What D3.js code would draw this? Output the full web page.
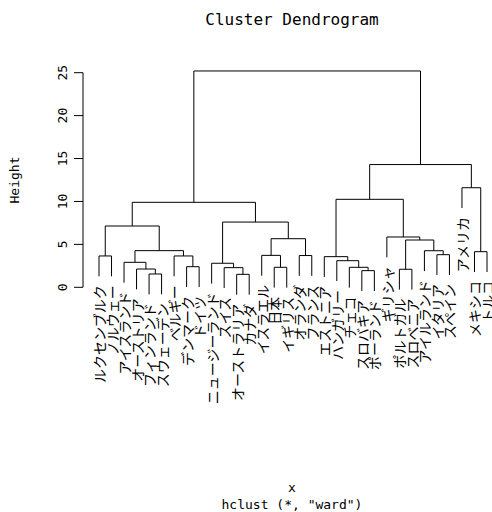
<!DOCTYPE html>
<html lang="ja">
<head>
<meta charset="UTF-8" />
<title>Cluster Dendrogram</title>
<script src="https://d3js.org/d3.v7.min.js"></script>
<style>
  body { margin: 0; background: #fff; }
  svg { display: block; }
  .mono { font-family: "DejaVu Sans Mono", monospace; fill: #000; }
  .leaf { font-family: "Noto Sans CJK JP", sans-serif; font-size: 14px; fill: #000; }
  path.branch { fill: none; stroke: #000; stroke-width: 1; }
</style>
</head>
<body>
<svg width="492" height="512"></svg>
<script>
  // leaf order as drawn, left to right
  const labels = [
    "ルクセンブルク", "ノルウェー", "アイスランド", "オーストリア", "フィンランド", "スウェーデン",
    "ベルギー", "デンマーク", "ドイツ", "ニュージーランド", "スイス", "オーストラリア",
    "カナダ", "イスラエル", "日本", "イギリス", "オランダ", "フランス",
    "エストニア", "ハンガリー", "チェコ", "スロバキア", "ポーランド", "ギリシャ",
    "ポルトガル", "スロベニア", "アイルランド", "イタリア", "スペイン", "アメリカ",
    "メキシコ", "トルコ"
  ];

  // merge steps, R style: negative = leaf (1-based position), positive = earlier step
  const merges = [
    [-12, -13], [-5, -6], [-22, -23], [-25, -26], [-4, 2], [-11, 1], [-15, -16],
    [-21, 3], [-8, -9], [-10, 6], [-3, 5], [-20, 8], [-19, 12], [-1, -2], [-7, 9],
    [-17, -18], [-14, 7], [-28, -29], [-31, -32], [-27, 18], [11, 15], [4, 20],
    [17, 16], [-24, 22], [14, 21], [10, 23], [25, 26], [13, 24], [-30, 19], [28, 29],
    [27, 30]
  ];
  const heights = [
    1.51, 1.55, 1.94, 2.10, 2.13, 2.29, 2.33, 2.33, 2.40, 2.80, 2.91, 3.10, 3.57,
    3.65, 3.65, 3.70, 3.72, 3.80, 4.15, 4.26, 4.27, 5.51, 5.66, 5.86, 7.14, 7.60,
    9.90, 10.25, 11.60, 14.30, 25.20
  ];
  const yTicks = [0, 5, 10, 15, 20, 25];

  const svg = d3.select("svg");

  const x = d3.scalePoint().domain(d3.range(labels.length)).range([99, 487]);
  const y = d3.scaleLinear().domain([0, 25]).range([287.3, 72.7]);

  const hang = 0.1 * (d3.max(heights) - d3.min(heights));

  // position of each merge node
  const nodeX = [];
  function childX(c) { return c < 0 ? x(-c - 1) : nodeX[c - 1]; }

  const g = svg.append("g");
  const leafTips = [];

  merges.forEach((m, i) => {
    const h = heights[i];
    const xl = childX(m[0]), xr = childX(m[1]);
    nodeX[i] = (xl + xr) / 2;
    const bottom = c => c < 0 ? h - hang : heights[c - 1];
    m.forEach(c => { if (c < 0) leafTips.push({ i: -c - 1, h: h - hang }); });
    g.append("path")
      .attr("class", "branch")
      .attr("d", `M${xl},${y(bottom(m[0]))}V${y(h)}H${xr}V${y(bottom(m[1]))}`);
  });

  // leaf labels, rotated, hanging below each leaf
  svg.append("g").selectAll("text")
    .data(leafTips)
    .join("text")
    .attr("class", "leaf")
    .attr("text-anchor", "end")
    .attr("dominant-baseline", "central")
    .attr("transform", d => `translate(${x(d.i)},${y(d.h) + 9}) rotate(-90)`)
    .text(d => labels[d.i]);

  // y axis
  const axis = svg.append("g").attr("transform", "translate(83,0)");
  axis.append("line")
    .attr("y1", y(0)).attr("y2", y(25))
    .attr("stroke", "#000");
  axis.selectAll("line.tick")
    .data(yTicks)
    .join("line")
    .attr("class", "tick")
    .attr("x1", 0).attr("x2", -9)
    .attr("y1", d => y(d)).attr("y2", d => y(d))
    .attr("stroke", "#000");
  axis.selectAll("text")
    .data(yTicks)
    .join("text")
    .attr("class", "mono")
    .attr("font-size", 13)
    .attr("text-anchor", "middle")
    .attr("transform", d => `translate(-16,${y(d)}) rotate(-90)`)
    .text(d => d);

  svg.append("text")
    .attr("class", "mono")
    .attr("font-size", 13)
    .attr("text-anchor", "middle")
    .attr("transform", "translate(19,180) rotate(-90)")
    .text("Height");

  svg.append("text")
    .attr("class", "mono")
    .attr("font-size", 16)
    .attr("text-anchor", "middle")
    .attr("x", 292).attr("y", 25)
    .text("Cluster Dendrogram");

  svg.append("text")
    .attr("class", "mono")
    .attr("font-size", 13)
    .attr("text-anchor", "middle")
    .attr("x", 292).attr("y", 492)
    .text("x");

  svg.append("text")
    .attr("class", "mono")
    .attr("font-size", 13)
    .attr("text-anchor", "middle")
    .attr("x", 292).attr("y", 509)
    .text('hclust (*, "ward")');
</script>
</body>
</html>
